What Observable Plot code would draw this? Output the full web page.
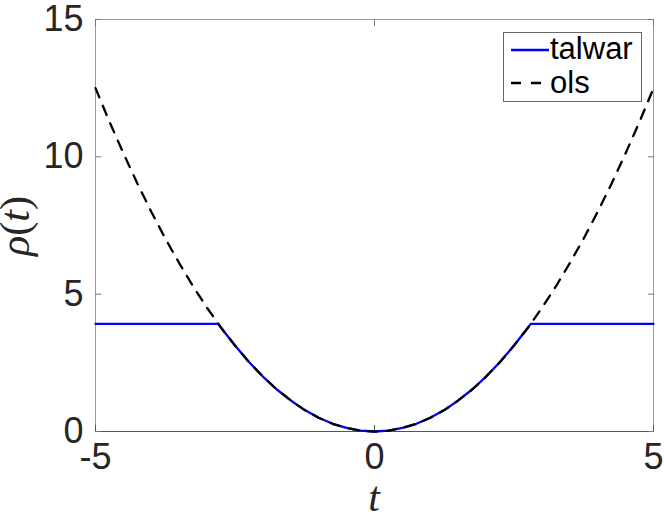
<!DOCTYPE html>
<html>
<head>
<meta charset="utf-8">
<script src="https://cdn.jsdelivr.net/npm/d3@7"></script>
<script src="https://cdn.jsdelivr.net/npm/@observablehq/plot@0.6"></script>
<style>
  html, body { margin: 0; padding: 0; background: white; }
  #chart { width: 664px; height: 520px; }
</style>
</head>
<body>
<div id="chart"></div>
<script>
// ---- data ----
const olsT = [-5, -4.75, -4.5, -4.25, -4, -3.75, -3.5, -3.25, -3, -2.75, -2.5, -2.25, -2, -1.75, -1.5, -1.25, -1, -0.75, -0.5, -0.25, 0,
              0.25, 0.5, 0.75, 1, 1.25, 1.5, 1.75, 2, 2.25, 2.5, 2.75, 3, 3.25, 3.5, 3.75, 4, 4.25, 4.5, 4.75, 5];
const olsRho = [12.5, 11.28, 10.13, 9.03, 8.0, 7.03, 6.13, 5.28, 4.5, 3.78, 3.13, 2.53, 2.0, 1.53, 1.13, 0.78, 0.5, 0.28, 0.13, 0.03, 0,
                0.03, 0.13, 0.28, 0.5, 0.78, 1.13, 1.53, 2.0, 2.53, 3.13, 3.78, 4.5, 5.28, 6.13, 7.03, 8.0, 9.03, 10.13, 11.28, 12.5];

const talwarT = [-5, -2.8, -2.75, -2.5, -2.25, -2, -1.75, -1.5, -1.25, -1, -0.75, -0.5, -0.25, 0,
                 0.25, 0.5, 0.75, 1, 1.25, 1.5, 1.75, 2, 2.25, 2.5, 2.75, 2.8, 5];
const talwarRho = [3.92, 3.92, 3.78, 3.13, 2.53, 2.0, 1.53, 1.13, 0.78, 0.5, 0.28, 0.13, 0.03, 0,
                   0.03, 0.13, 0.28, 0.5, 0.78, 1.13, 1.53, 2.0, 2.53, 3.13, 3.78, 3.92, 3.92];

const xTicks = [-5, 0, 5];
const yTicks = [0, 5, 10, 15];
const seriesNames = ["talwar", "ols"];
const xLabel = "t";
const yLabelParts = ["ρ", "(", "t", ")"];

// ---- tables built from the arrays ----
const ols = olsT.map((t, i) => ({t, rho: olsRho[i]}));
const talwar = talwarT.map((t, i) => ({t, rho: talwarRho[i]}));

const textColor = "#262626";
const fmt = d => String(d);

const chart = Plot.plot({
  width: 664,
  height: 520,
  marginLeft: 95,
  marginRight: 11,
  marginTop: 19,
  marginBottom: 89,
  x: {domain: [-5, 5]},
  y: {domain: [0, 15]},
  style: {
    fontFamily: "'Liberation Sans', Arial, Helvetica, sans-serif",
    fontSize: "36px",
    color: textColor,
    background: "white",
    overflow: "visible"
  },
  marks: [
    Plot.frame({stroke: "#9a9a9a", strokeWidth: 1}),
    Plot.ruleY([yTicks[0]], {stroke: "#555555", strokeWidth: 1}),
    Plot.axisX(xTicks, {anchor: "bottom", tickSize: -6, tickPadding: 18, tickFormat: fmt, label: null, stroke: "#555"}),
    Plot.axisX(xTicks, {anchor: "top", tickSize: -6, tickFormat: () => "", label: null, stroke: "#777"}),
    Plot.axisY(yTicks, {anchor: "left", tickSize: -6, tickPadding: 18, tickFormat: fmt, label: null, stroke: "#777"}),
    Plot.axisY(yTicks, {anchor: "right", tickSize: -6, tickFormat: () => "", label: null, stroke: "#777"}),
    Plot.line(talwar, {x: "t", y: "rho", stroke: "#0000ff", strokeWidth: 2.3}),
    Plot.line(ols, {x: "t", y: "rho", stroke: "#000000", strokeWidth: 2.3, strokeDasharray: "10,9"})
  ]
});

document.getElementById("chart").appendChild(chart);

const svg = d3.select(chart);

// y-axis label  ρ(t)
const yl = svg.append("text")
  .attr("transform", "translate(29,226) rotate(-90)")
  .attr("text-anchor", "middle")
  .attr("fill", textColor)
  .style("font-family", "'Liberation Serif', 'Times New Roman', serif")
  .style("font-size", "42px");
yLabelParts.forEach((p, i) => {
  yl.append("tspan").attr("font-style", (i === 0 || i === 2) ? "italic" : "normal").text(p);
});

// x-axis label  t
svg.append("text")
  .attr("x", 374)
  .attr("y", 511)
  .attr("text-anchor", "middle")
  .attr("fill", textColor)
  .style("font-family", "'Liberation Serif', 'Times New Roman', serif")
  .style("font-size", "42px")
  .style("font-style", "italic")
  .text(xLabel);

// legend
const lg = svg.append("g");
lg.append("rect")
  .attr("x", 503.5).attr("y", 32.5).attr("width", 138).attr("height", 69)
  .attr("fill", "white").attr("stroke", "#666").attr("stroke-width", 1);
const legendStyles = [
  {stroke: "#0000ff", dash: null, ly: 50, ty: 59},
  {stroke: "#000000", dash: "10,10", ly: 83, ty: 93}
];
seriesNames.forEach((name, i) => {
  const s = legendStyles[i];
  const ln = lg.append("line")
    .attr("x1", 511).attr("x2", 549).attr("y1", s.ly).attr("y2", s.ly)
    .attr("stroke", s.stroke).attr("stroke-width", 2.3);
  if (s.dash) ln.attr("stroke-dasharray", s.dash);
  lg.append("text")
    .attr("x", 550).attr("y", s.ty)
    .attr("text-anchor", "start")
    .attr("fill", "#000")
    .style("font-family", "'Liberation Sans', Arial, Helvetica, sans-serif")
    .style("font-size", "31px")
    .text(name);
});
</script>
</body>
</html>
